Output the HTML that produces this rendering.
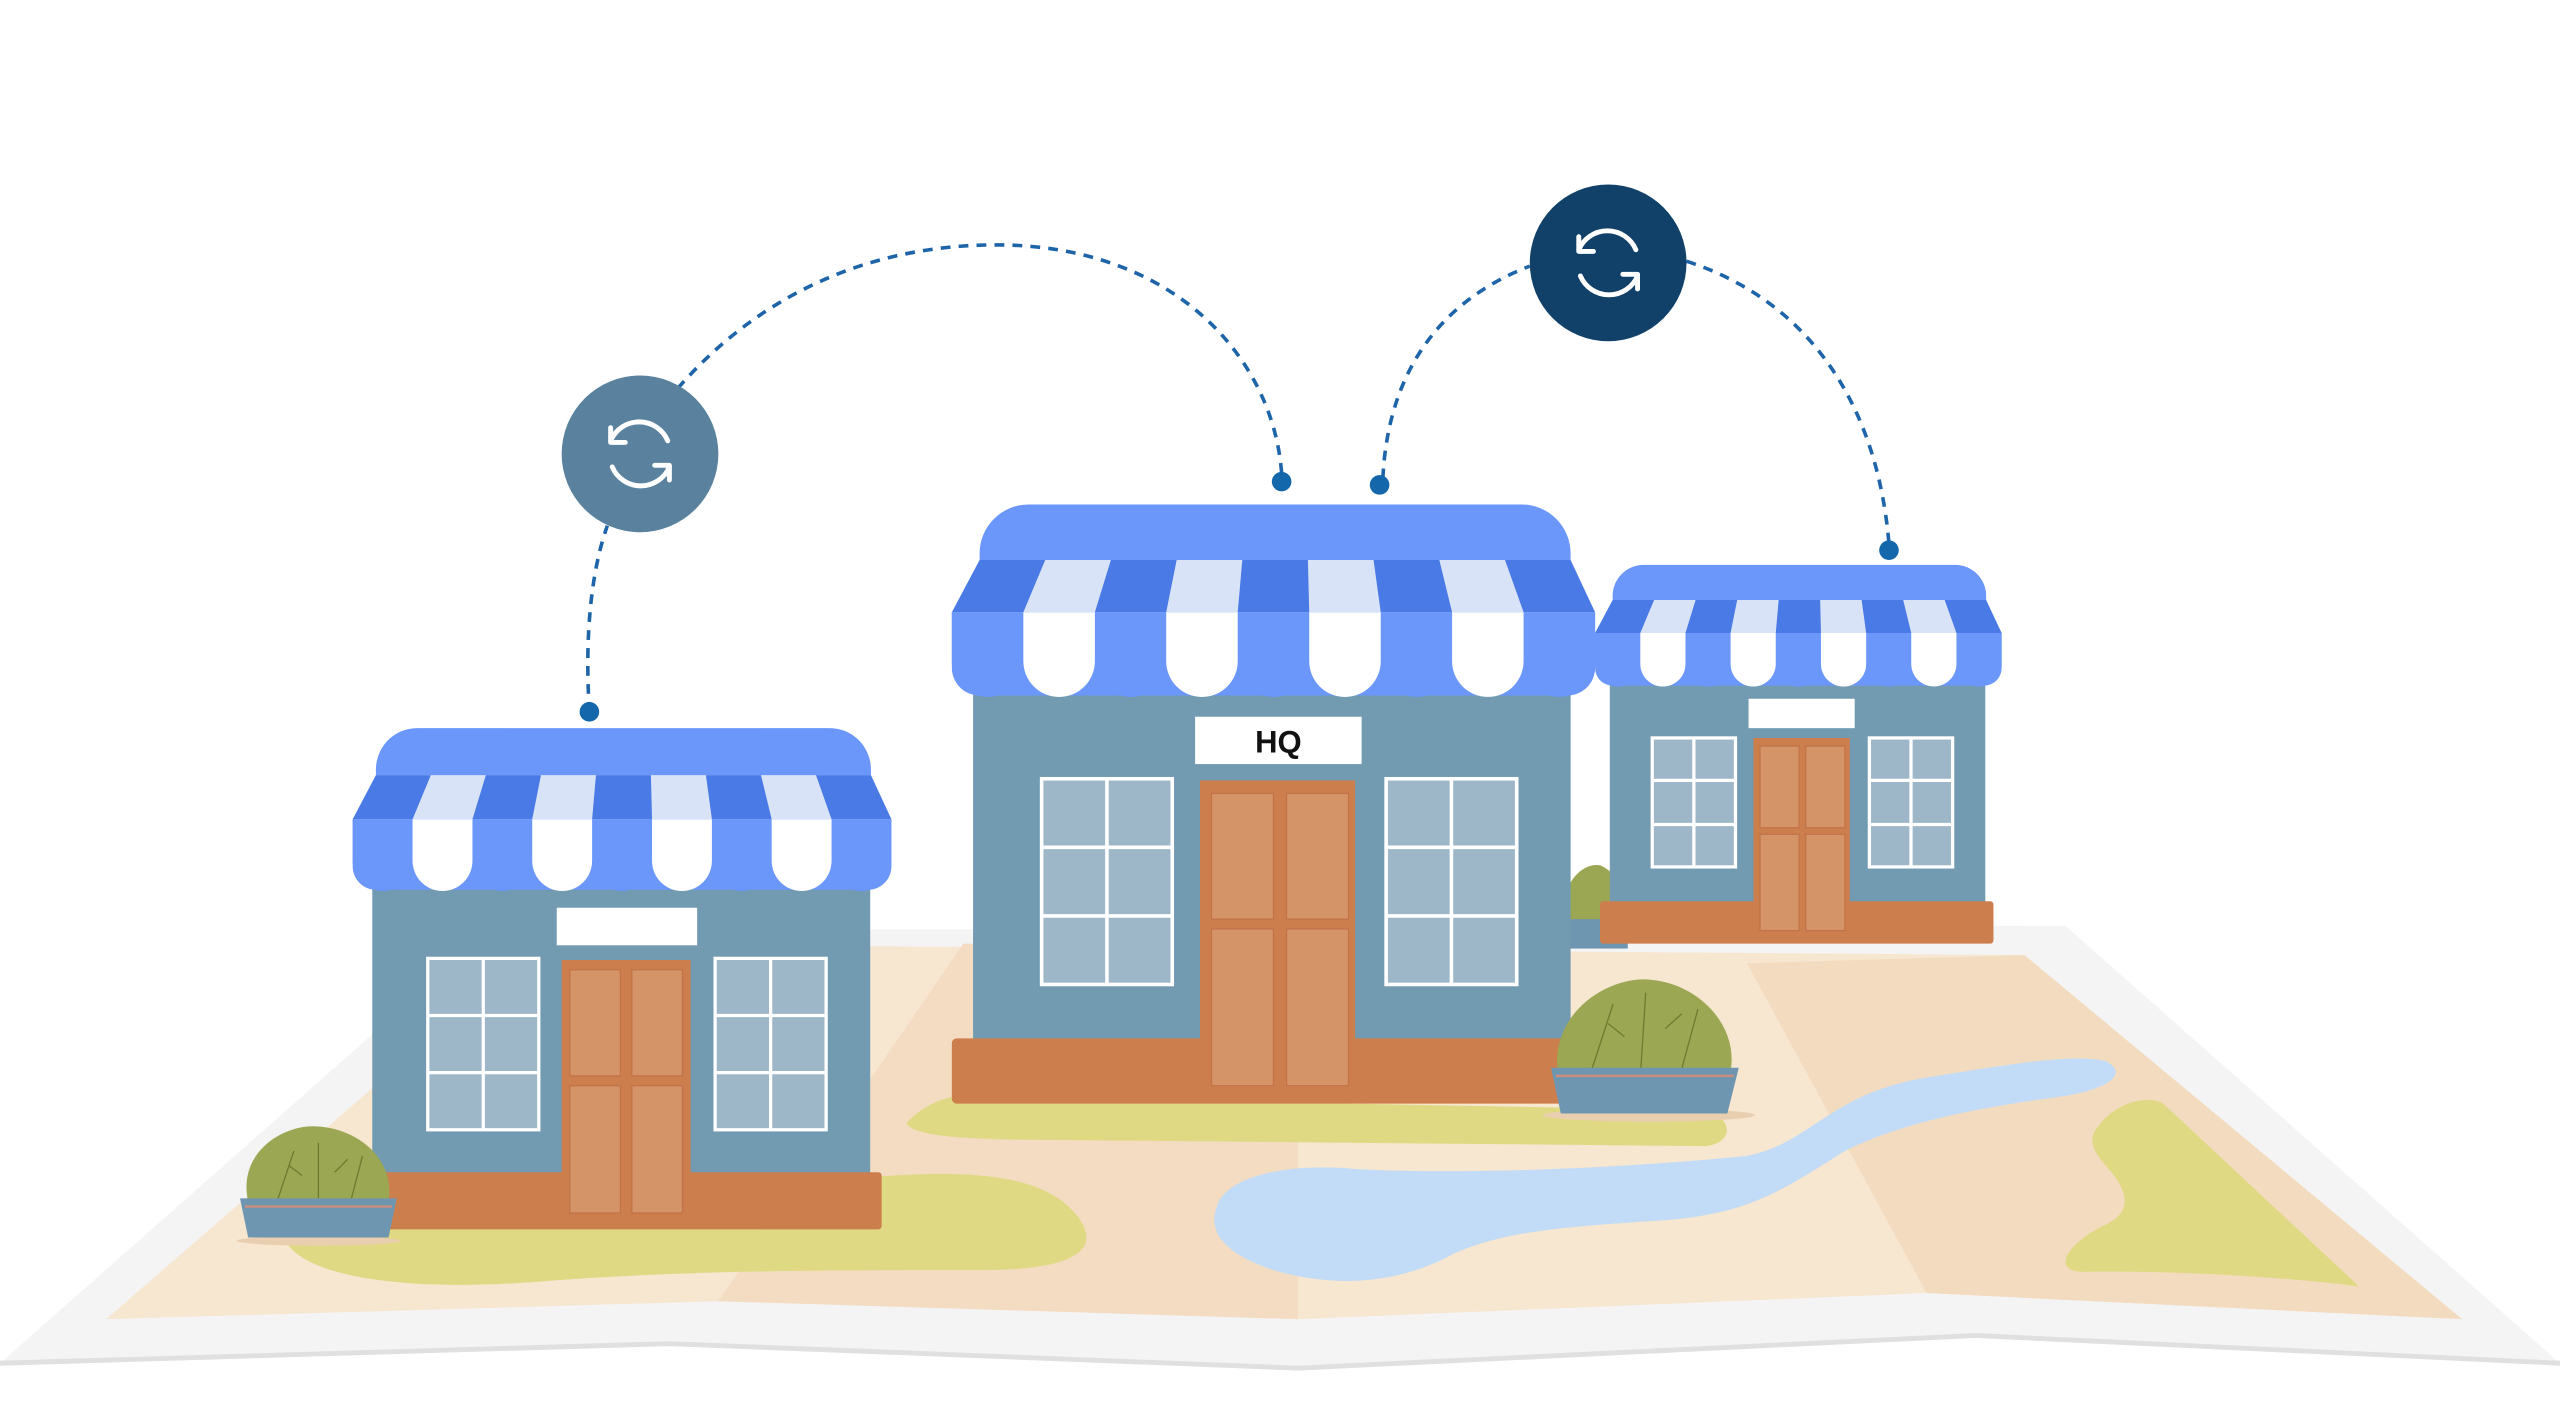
<!DOCTYPE html>
<html><head><meta charset="utf-8"><style>html,body{margin:0;padding:0;background:#fff;width:2560px;height:1423px;overflow:hidden}svg{display:block}</style></head>
<body>
<svg width="2560" height="1423" viewBox="0 0 1568 871.6" xmlns="http://www.w3.org/2000/svg">
<defs>
<g id="awn">
  <path d="M17 34 V30 A30 30 0 0 1 47 0 H349 A30 30 0 0 1 379 30 V34 Z" fill="#6b97fb"/>
  <polygon points="17,34 379,34 394,66 0,66" fill="#4a7ae6"/>
  <polygon points="57.2,34 97.4,34 87.6,66 43.8,66" fill="#d9e3f7"/>
  <polygon points="137.7,34 177.9,34 175.1,66 131.3,66" fill="#d9e3f7"/>
  <polygon points="218.1,34 258.3,34 262.7,66 218.9,66" fill="#d9e3f7"/>
  <polygon points="298.6,34 338.8,34 350.2,66 306.4,66" fill="#d9e3f7"/>
  <path d="M0 66 H394 V100 A17 17 0 0 1 377 117 H17 A17 17 0 0 1 0 100 Z" fill="#6b97fb"/>
  <g fill="#6b97fb">
   <path d="M0 66h43.8v30a21.9 21.9 0 0 1 -43.8 0z"/>
   <path d="M87.6 66h43.8v30a21.9 21.9 0 0 1 -43.8 0z"/>
   <path d="M175.1 66h43.8v30a21.9 21.9 0 0 1 -43.8 0z"/>
   <path d="M262.7 66h43.8v30a21.9 21.9 0 0 1 -43.8 0z"/>
   <path d="M350.2 66h43.8v30a21.9 21.9 0 0 1 -43.8 0z"/>
  </g>
  <g fill="#fff">
   <path d="M43.8 66h43.8v30a21.9 21.9 0 0 1 -43.8 0z"/>
   <path d="M131.3 66h43.8v30a21.9 21.9 0 0 1 -43.8 0z"/>
   <path d="M218.9 66h43.8v30a21.9 21.9 0 0 1 -43.8 0z"/>
   <path d="M306.4 66h43.8v30a21.9 21.9 0 0 1 -43.8 0z"/>
  </g>
</g>
</defs>
<!-- map -->
<polygon points="0,835 300,570 1265,567 1568,835 1210,818 795,838 410,823" fill="#f4f4f4"/>
<polyline points="0,835 410,823 795,838 1210,818 1568,835" fill="none" stroke="#e0e0e0" stroke-width="3"/>
<polygon points="65,808 330,578 1240,585 1508,808 1180,792 795,808 440,797" fill="#f7e6d0"/>
<polygon points="440,797 590,578 795,580 795,808" fill="#f3dcc2"/>
<polygon points="1070,590 1240,585 1508,808 1180,792" fill="#f3dbc0"/>
<!-- green patches -->
<path d="M175,760 C160,740 200,725 250,728 L520,722 C600,715 640,720 660,745 C675,765 660,778 600,778 C500,778 420,778 330,785 C240,792 185,780 175,760 Z" fill="#e0d983"/>
<path d="M555,688 C570,672 590,668 610,672 L1045,680 C1062,685 1062,700 1045,702 L620,698 C580,697 560,695 555,688 Z" fill="#e0d983"/>
<path d="M1285,690 C1295,676 1315,670 1325,676 L1445,788 C1400,782 1330,778 1275,779 C1255,778 1268,760 1290,750 C1310,740 1300,725 1288,712 C1280,702 1280,696 1285,690 Z" fill="#e0d983"/>
<!-- river -->
<path d="M745,740 C750,720 790,712 830,716 C900,720 1000,715 1070,708 C1110,700 1120,670 1180,660 C1230,652 1270,645 1290,650 C1305,658 1290,668 1260,672 C1200,680 1160,690 1130,705 C1090,730 1070,745 1010,748 C950,752 920,755 890,768 C860,785 820,790 780,778 C750,768 740,755 745,740 Z" fill="#c2dcf7"/>
<!-- connectors -->
<g fill="none" stroke="#1e64a8" stroke-width="2.2" stroke-dasharray="6 5">
 <path d="M361,436 C358,390 362,350 372,322"/>
 <path d="M415,238 C470,175 540,150 610,150 C720,150 780,220 785,290"/>
 <path d="M847,293 C850,230 880,185 937,163"/>
 <path d="M1033,160 C1110,185 1150,250 1157,333"/>
</g>
<g fill="#1467ab">
 <circle cx="361" cy="436" r="6"/><circle cx="785" cy="295" r="6"/><circle cx="845" cy="297" r="6"/><circle cx="1157" cy="337" r="6"/>
</g>
<!-- sync icons -->
<g>
 <circle cx="392" cy="278" r="48" fill="#5a829f"/>
 <circle cx="985" cy="161" r="48" fill="#114168"/>
 <g fill="none" stroke="#fff" stroke-width="3" stroke-linecap="round" stroke-linejoin="round">
  <path d="M374,270 A19 19 0 0 1 409,270"/><path d="M374,262 L374,271 L383,271"/>
  <path d="M410,286 A19 19 0 0 1 375,286"/><path d="M410,294 L410,285 L401,285"/>
  <path d="M967,153 A19 19 0 0 1 1002,153"/><path d="M967,145 L967,154 L976,154"/>
  <path d="M1003,169 A19 19 0 0 1 968,169"/><path d="M1003,177 L1003,168 L994,168"/>
 </g>
</g>
<!-- small bush behind right building -->
<path d="M958,565 C955,540 970,528 980,530 C992,535 998,550 996,565 Z" fill="#9ba752"/>
<rect x="955" y="563" width="42" height="18" fill="#6f96b0"/>
<!-- right building -->
<rect x="986" y="405" width="230" height="150" fill="#729bb2"/>
<rect x="980" y="552" width="241" height="26" rx="2" fill="#cd7e4d"/>
<rect x="1071" y="428" width="65" height="18" fill="#fff"/>
<rect x="1074" y="452" width="59" height="121" fill="#cd7e4d"/>
<g fill="#d59467" stroke="#c27448" stroke-width="0.8"><rect x="1078" y="457" width="24" height="50"/><rect x="1106" y="457" width="24" height="50"/><rect x="1078" y="511" width="24" height="59"/><rect x="1106" y="511" width="24" height="59"/></g>
<g fill="#9db7c9" stroke="#fff" stroke-width="2">
 <rect x="1012" y="452" width="51" height="79"/><path d="M1037.5 452V531M1012 478H1063M1012 505H1063"/>
 <rect x="1145" y="452" width="51" height="79"/><path d="M1170.5 452V531M1145 478H1196M1145 505H1196"/>
</g>
<use href="#awn" transform="translate(977,346) scale(0.632)"/>
<!-- left building -->
<rect x="228" y="530" width="305" height="192" fill="#729bb2"/>
<rect x="228" y="718" width="312" height="35" rx="2" fill="#cd7e4d"/>
<rect x="341" y="556" width="86" height="23" fill="#fff"/>
<rect x="344" y="588" width="79" height="158" fill="#cd7e4d"/>
<g fill="#d59467" stroke="#c27448" stroke-width="0.8"><rect x="349" y="594" width="31" height="65"/><rect x="387" y="594" width="31" height="65"/><rect x="349" y="665" width="31" height="78"/><rect x="387" y="665" width="31" height="78"/></g>
<g fill="#9db7c9" stroke="#fff" stroke-width="2">
 <rect x="262" y="587" width="68" height="105"/><path d="M296 587V692M262 622H330M262 657H330"/>
 <rect x="438" y="587" width="68" height="105"/><path d="M472 587V692M438 622H506M438 657H506"/>
</g>
<use href="#awn" transform="translate(216,446) scale(0.8376,0.846)"/>
<!-- left bush -->
<ellipse cx="195" cy="760" rx="50" ry="3" fill="#e9cfb0"/>
<path d="M152,736 C145,705 175,688 195,690 C222,692 242,712 238,736 Z" fill="#9ba752"/>
<g stroke="#6f7a30" stroke-width="0.8" fill="none"><path d="M170,735 L180,705M195,735 L195,700M215,735 L222,708M185,720 l-8,-6M205,718 l8,-8"/></g>
<polygon points="147,734 243,734 238,758 152,758" fill="#6f96b0"/>
<line x1="150" y1="739" x2="240" y2="739" stroke="#c98e80" stroke-width="1.5"/>
<!-- HQ building -->
<rect x="596" y="410" width="366" height="230" fill="#729bb2"/>
<rect x="583" y="636" width="379" height="40" rx="3" fill="#cd7e4d"/>
<rect x="732" y="439" width="102" height="29" fill="#fff"/>
<text x="783" y="461" text-anchor="middle" font-family="Liberation Sans, sans-serif" font-weight="bold" font-size="19" fill="#111">HQ</text>
<rect x="735" y="478" width="95" height="190" fill="#cd7e4d"/>
<g fill="#d59467" stroke="#c27448" stroke-width="0.8"><rect x="742" y="486" width="38" height="77"/><rect x="788" y="486" width="38" height="77"/><rect x="742" y="569" width="38" height="96"/><rect x="788" y="569" width="38" height="96"/></g>
<g fill="#9db7c9" stroke="#fff" stroke-width="2.2">
 <rect x="638" y="477" width="80" height="126"/><path d="M678 477V603M638 519H718M638 561H718"/>
 <rect x="849" y="477" width="80" height="126"/><path d="M889 477V603M849 519H929M849 561H929"/>
</g>
<use href="#awn" transform="translate(583,309)"/>
<!-- middle bush -->
<ellipse cx="1010" cy="683" rx="65" ry="4" fill="#e9cfb0"/>
<path d="M954,656 C950,620 985,598 1010,600 C1040,602 1065,628 1060,656 Z" fill="#9ba752"/>
<g stroke="#6f7a30" stroke-width="0.8" fill="none"><path d="M975,655 L988,615M1005,655 L1008,608M1030,655 L1040,618M995,635 l-10,-8M1020,630 l10,-9"/></g>
<polygon points="950,654 1065,654 1058,682 956,682" fill="#6f96b0"/>
<line x1="953" y1="659" x2="1062" y2="659" stroke="#c98e80" stroke-width="1.5"/>
</svg>
</body></html>
